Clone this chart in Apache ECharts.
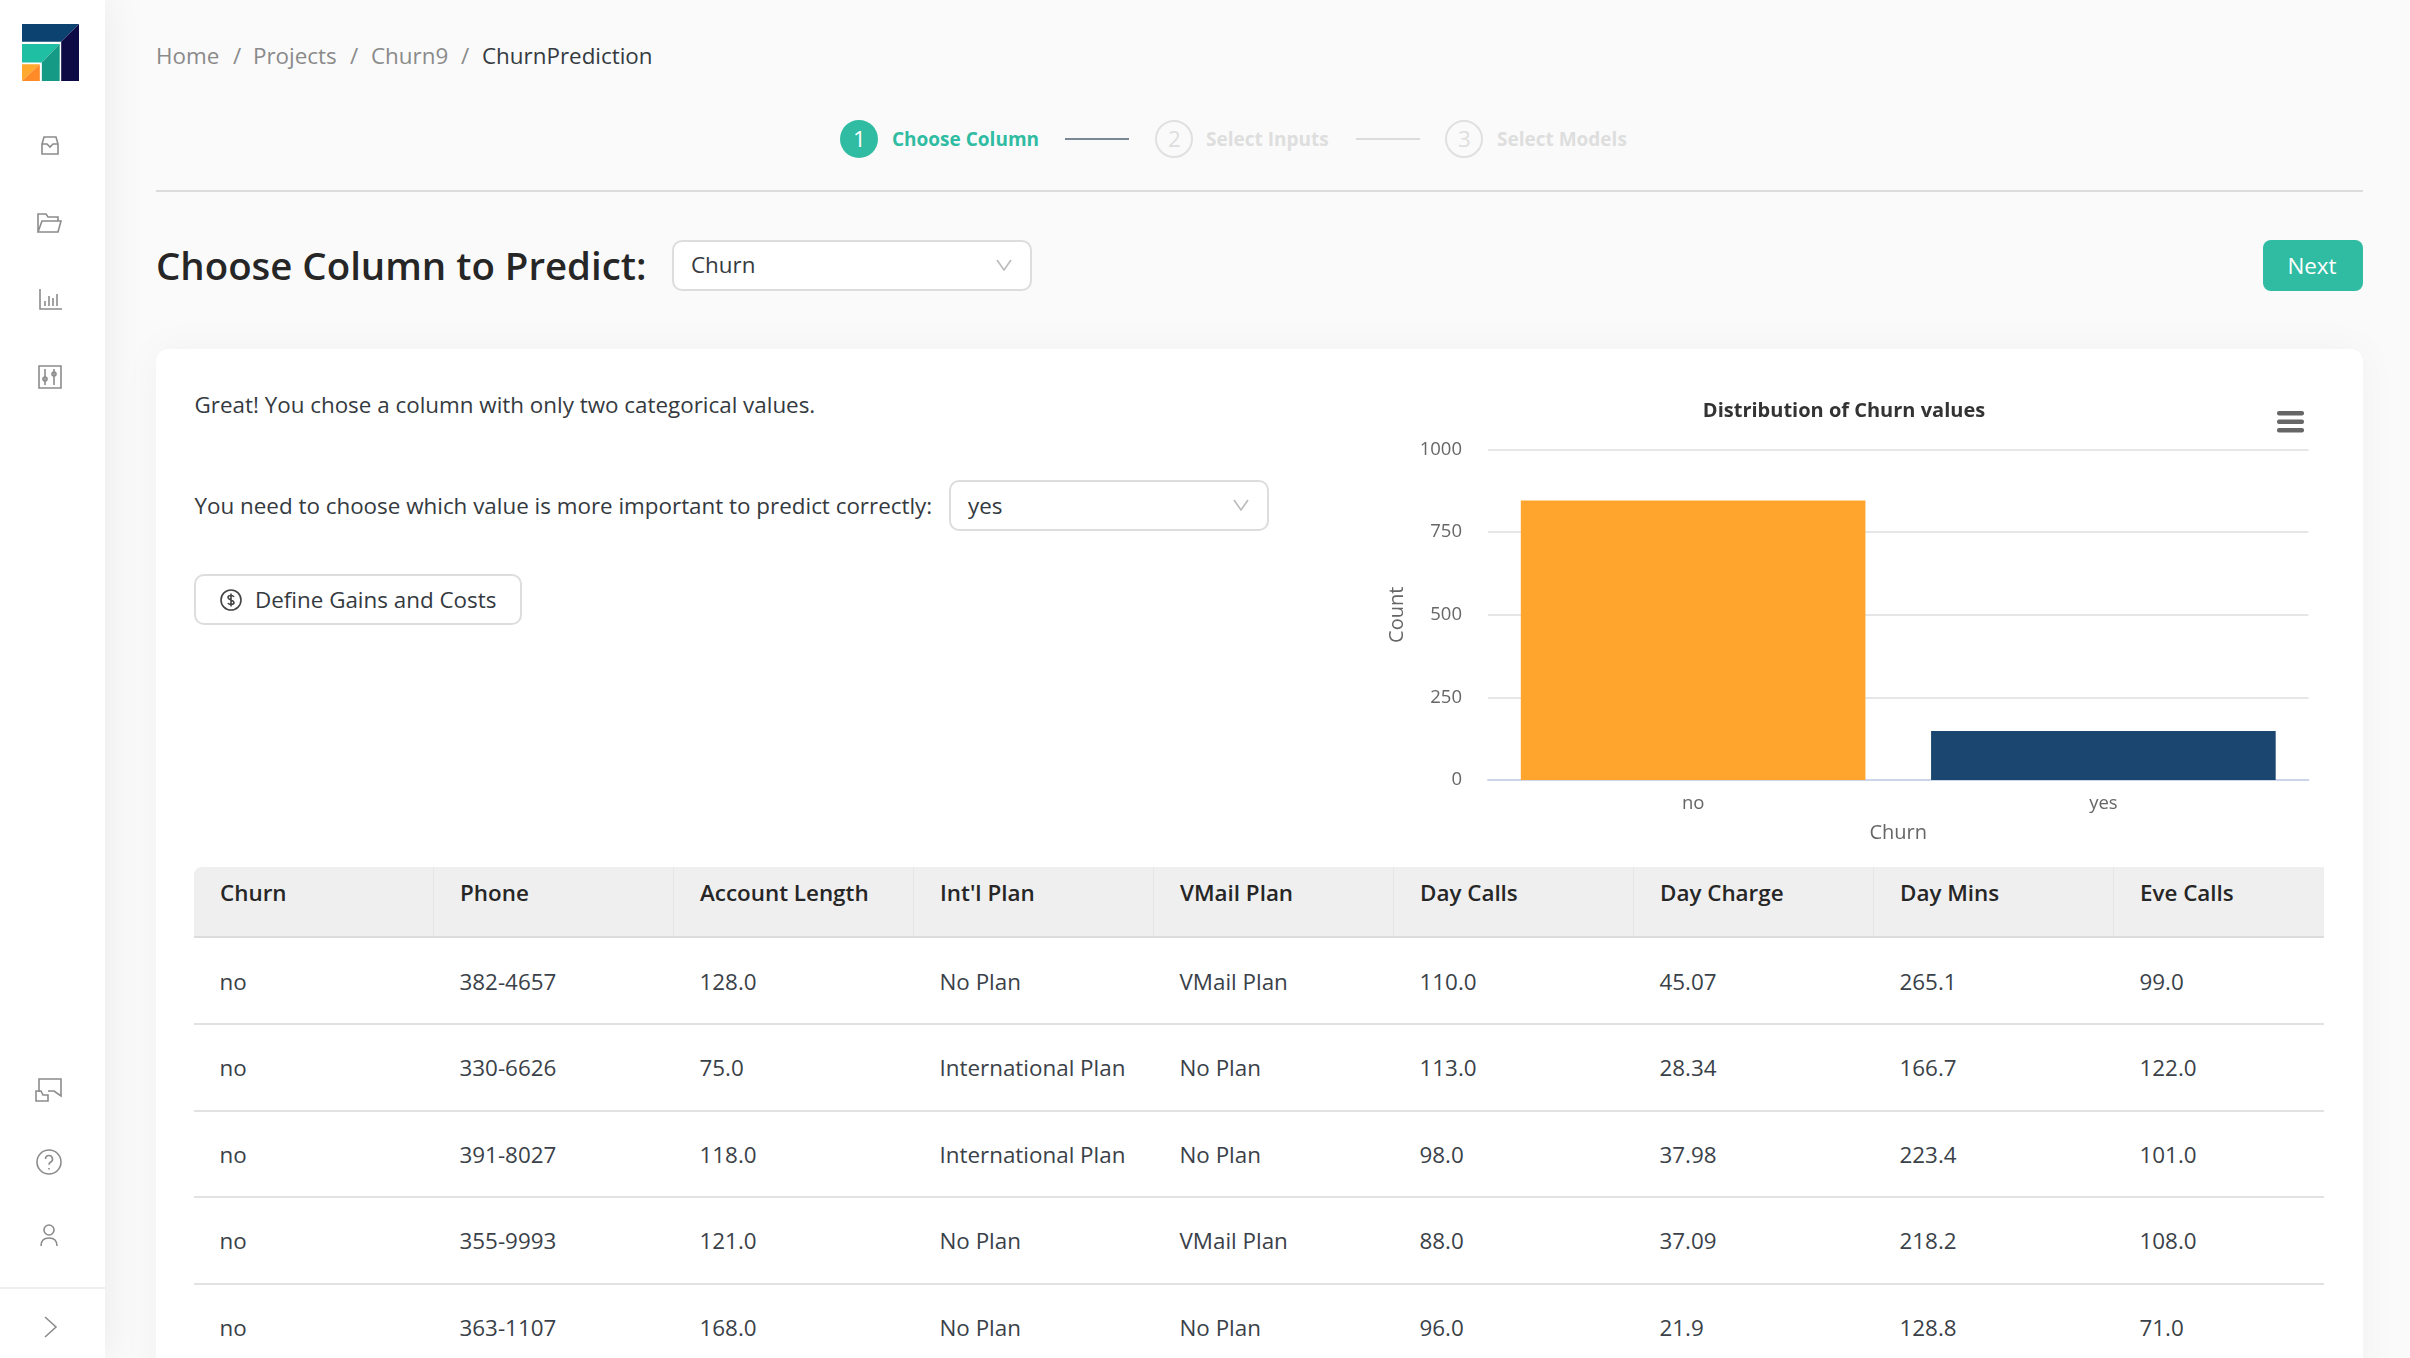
<!DOCTYPE html>
<html><head><meta charset="utf-8">
<script src="https://cdn.jsdelivr.net/npm/echarts@6/dist/echarts.min.js"></script>
<style>
html,body{margin:0;padding:0;width:2410px;height:1358px;overflow:hidden;background:#fafafa;font-family:"Open Sans",sans-serif;color:#343a40}
.a{position:absolute;white-space:nowrap;transform:translateY(-50%);line-height:1}
#side{position:absolute;left:0;top:0;width:105px;height:1358px;background:#fff;box-shadow:0 0 40px rgba(0,0,0,.07)}
#card{position:absolute;left:156px;top:349px;width:2207px;height:1100px;background:#fff;border-radius:12px;box-shadow:0 0 40px rgba(0,0,0,.04)}
.box{position:absolute;background:#fff;border:2px solid #ddd;border-radius:10px;box-sizing:border-box}
.ic{position:absolute;fill:none;stroke:#8c8c8c;stroke-width:1.6}
.hr{position:absolute;background:#dcdcdc;height:2px}
#chart{position:absolute;left:1360px;top:380px;width:1000px;height:480px}
#tbl{position:absolute;left:194px;top:867px;width:2130px;height:491px;overflow:hidden}
.th{position:absolute;top:0;height:70px;width:240px;box-sizing:border-box;background:#efefef;border-right:1px solid #e6e6e6;font-weight:600;font-size:22.4px;color:#262626;line-height:1;padding:15px 0 0 26px}
.td{position:absolute;font-size:22.4px;color:#3a4148;white-space:nowrap;line-height:1;transform:translateY(-50%)}
</style></head><body>
<div id="side">
<svg style="position:absolute;left:22px;top:24px" width="57" height="57" viewBox="43 72 112 170" preserveAspectRatio="none">
<polygon points="43,72 155,72 120,125 43,125" fill="#0b4270"/><polygon points="155,72 155,242 120,242 120,125" fill="#0d0a45"/>
<polygon points="43,132 117,132 82,187 43,187" fill="#1fbfa3"/><polygon points="117,132 117,242 82,242 82,187" fill="#159a85"/>
<polygon points="43,192 78,192 43,242" fill="#ffa92e"/><polygon points="78,192 78,242 43,242" fill="#ff8a28"/></svg>
<svg class="ic" style="left:40px;top:136px" width="20" height="20" viewBox="0 0 20 20"><path d="M4 1h12l2 7v10H2V8zM2 8h5l3 3 3-3h5"/></svg>
<svg class="ic" style="left:37px;top:213px" width="26" height="20" viewBox="0 0 26 20"><path d="M1 19V1h8l2 3h10v4M1 19h20l3-11H5z"/></svg>
<svg class="ic" style="left:39px;top:289px" width="23" height="21" viewBox="0 0 23 21"><path d="M1 0v20h22M6 17v-5M10 17V7M14 17v-8M18 17V5"/></svg>
<svg class="ic" style="left:38px;top:365px" width="24" height="24" viewBox="0 0 24 24"><path d="M1 1h22v22H1zM7 4v16M16 4v16"/><circle cx="7" cy="14" r="2"/><circle cx="16" cy="9" r="2"/></svg>
<svg class="ic" style="left:34px;top:1078px" width="28" height="24" viewBox="0 0 28 24"><path d="M5 14V1h22v17l-7-5h-6M2 23V13h5l2 4h5v6z"/></svg>
<svg class="ic" style="left:36px;top:1149px" width="26" height="26" viewBox="0 0 26 26"><circle cx="13" cy="13" r="12"/><path d="M9.5 10a3.5 3.5 0 1 1 5 3.2c-1 .6-1.5 1.2-1.5 2.5M13 19v1.5"/></svg>
<svg class="ic" style="left:40px;top:1224px" width="18" height="23" viewBox="0 0 18 23"><circle cx="9" cy="6" r="5"/><path d="M1 22c0-5 3-8 8-8s8 3 8 8"/></svg>
<div class="hr" style="left:0;top:1287px;width:105px;background:#efefef"></div>
<svg class="ic" style="left:44px;top:1316px" width="14" height="22" viewBox="0 0 14 22"><path d="M1 1l11 10L1 21"/></svg>
</div>

<div class="a" style="left:156px;top:56px;font-size:22.4px;color:#8a8a8a">Home</div>
<div class="a" style="left:233px;top:56px;font-size:22.4px;color:#8a8a8a">/</div>
<div class="a" style="left:253px;top:56px;font-size:22.4px;color:#8a8a8a">Projects</div>
<div class="a" style="left:350px;top:56px;font-size:22.4px;color:#8a8a8a">/</div>
<div class="a" style="left:371px;top:56px;font-size:22.4px;color:#8a8a8a">Churn9</div>
<div class="a" style="left:461px;top:56px;font-size:22.4px;color:#8a8a8a">/</div>
<div class="a" style="left:482px;top:56px;font-size:22.4px;color:#343a40">ChurnPrediction</div>

<div style="position:absolute;left:840px;top:120px;width:38px;height:38px;border-radius:50%;background:#2fbca2"></div>
<div class="a" style="left:853px;top:139px;font-size:22.4px;color:#fff">1</div>
<div class="a" style="left:892px;top:139px;font-size:19px;font-weight:700;color:#2fbca2">Choose Column</div>
<div class="hr" style="left:1065px;top:138px;width:64px;background:#7a8794"></div>
<div style="position:absolute;left:1155px;top:120px;width:38px;height:38px;border-radius:50%;border:2px solid #e0e0e0;box-sizing:border-box"></div>
<div class="a" style="left:1168px;top:139px;font-size:22.4px;color:#dedede">2</div>
<div class="a" style="left:1206px;top:139px;font-size:19px;font-weight:700;color:#dedede">Select Inputs</div>
<div class="hr" style="left:1356px;top:138px;width:64px;background:#dcdcdc"></div>
<div style="position:absolute;left:1445px;top:120px;width:38px;height:38px;border-radius:50%;border:2px solid #e0e0e0;box-sizing:border-box"></div>
<div class="a" style="left:1458px;top:139px;font-size:22.4px;color:#dedede">3</div>
<div class="a" style="left:1497px;top:139px;font-size:19px;font-weight:700;color:#dedede">Select Models</div>
<div class="hr" style="left:156px;top:190px;width:2207px"></div>

<div class="a" style="left:156px;top:265px;font-size:38.400px;font-weight:600;color:#262626">Choose Column to Predict:</div>
<div class="box" style="left:672px;top:240px;width:360px;height:51px"></div>
<div class="a" style="left:691px;top:264.500px;font-size:22.4px">Churn</div>
<svg class="ic" style="left:996px;top:259px;stroke:#bbb" width="16" height="12" viewBox="0 0 16 12"><path d="M1 1l7 10 7-10"/></svg>
<div style="position:absolute;left:2263px;top:240px;width:100px;height:51px;border-radius:8px;background:#2fbca2"></div>
<div class="a" style="left:2312px;top:265.500px;font-size:22.4px;color:#fff;transform:translate(-50%,-50%)">Next</div>

<div id="card"></div>
<div class="a" style="left:194.500px;top:405px;font-size:22.4px">Great! You chose a column with only two categorical values.</div>
<div class="a" style="left:194.500px;top:506px;font-size:22.4px">You need to choose which value is more important to predict correctly:</div>
<div class="box" style="left:949px;top:480px;width:320px;height:51px"></div>
<div class="a" style="left:968px;top:506px;font-size:22.4px">yes</div>
<svg class="ic" style="left:1233px;top:499px;stroke:#bbb" width="16" height="12" viewBox="0 0 16 12"><path d="M1 1l7 10 7-10"/></svg>
<div class="box" style="left:194px;top:574px;width:328px;height:51px"></div>
<svg class="ic" style="left:220px;top:589px;stroke:#444" width="22" height="22" viewBox="0 0 22 22"><circle cx="11" cy="11" r="10"/><path d="M14 8c-1-2-6-2-6 .5S14 11 14 13.500 9 16 8 14M11 4.500v13"/></svg>
<div class="a" style="left:255px;top:600px;font-size:22.4px">Define Gains and Costs</div>

<div id="chart"></div>
<div id="tbl"></div>

<script>
const chartTitle = 'Distribution of Churn values';
const categories = ['no', 'yes'];
const counts = [846, 148];
const barColors = ['#ffa52e', '#1a4670'];
const yTicks = [0, 250, 500, 750, 1000];

const columns = ['Churn', 'Phone', 'Account Length', "Int'l Plan", 'VMail Plan', 'Day Calls', 'Day Charge', 'Day Mins', 'Eve Calls'];
const churnCol = ['no', 'no', 'no', 'no', 'no'];
const phoneCol = ['382-4657', '330-6626', '391-8027', '355-9993', '363-1107'];
const lengthCol = ['128.0', '75.0', '118.0', '121.0', '168.0'];
const intlCol = ['No Plan', 'International Plan', 'International Plan', 'No Plan', 'No Plan'];
const vmailCol = ['VMail Plan', 'No Plan', 'No Plan', 'VMail Plan', 'No Plan'];
const dayCallsCol = ['110.0', '113.0', '98.0', '88.0', '96.0'];
const dayChargeCol = ['45.07', '28.34', '37.98', '37.09', '21.9'];
const dayMinsCol = ['265.1', '166.7', '223.4', '218.2', '128.8'];
const eveCallsCol = ['99.0', '122.0', '101.0', '108.0', '71.0'];
const tableCols = [churnCol, phoneCol, lengthCol, intlCol, vmailCol, dayCallsCol, dayChargeCol, dayMinsCol, eveCallsCol];

// table
const tbl = document.getElementById('tbl');
let html = '';
columns.forEach((c, i) => {
  html += `<div class="th" style="left:${i * 240}px${i === 0 ? ';border-top-left-radius:8px' : ''}">${c}</div>`;
});
html += '<div style="position:absolute;left:0;top:69px;width:2130px;height:2px;background:#dcdcdc"></div>';
churnCol.forEach((_, r) => {
  tableCols.forEach((col, i) => {
    html += `<div class="td" style="left:${i * 240 + 25.5}px;top:${115 + r * 86.4}px">${col[r]}</div>`;
  });
  if (r < 4) html += `<div style="position:absolute;left:0;top:${156 + r * 86.5}px;width:2130px;height:2px;background:#e2e2e2"></div>`;
});
tbl.innerHTML = html;

// chart
const chart = echarts.init(document.getElementById('chart'), null, { renderer: 'canvas' });
chart.setOption({
  animation: false,
  textStyle: { fontFamily: '"Open Sans", sans-serif' },
  title: {
    text: chartTitle, left: 479, top: 16.5, textAlign: 'center',
    textStyle: { fontSize: 20, fontWeight: 'bold', color: '#333', fontFamily: '"Open Sans", sans-serif' }
  },
  grid: { left: 128, top: 69.5, width: 820.5, height: 330.5 },
  xAxis: {
    type: 'category', data: categories, name: 'Churn', nameLocation: 'middle', nameGap: 43.5,
    nameTextStyle: { fontSize: 20, color: '#666' },
    axisLine: { lineStyle: { color: '#ccd6eb', width: 2 } },
    axisTick: { show: false },
    axisLabel: { fontSize: 18.500, color: '#666', margin: 14.5 }
  },
  yAxis: {
    type: 'value', min: 0, max: 1000, interval: 250, name: 'Count', nameLocation: 'middle', nameGap: 81,
    nameTextStyle: { fontSize: 20, color: '#666' },
    axisLine: { show: false }, axisTick: { show: false },
    axisLabel: { fontSize: 18.500, color: '#666', margin: 26, formatter: v => yTicks.includes(v) ? String(v) : '' },
    splitLine: { lineStyle: { color: '#e6e6e6', width: 2 } }
  },
  series: [{
    type: 'bar', barWidth: '84%',
    data: counts.map((v, i) => ({ value: v, itemStyle: { color: barColors[i] } }))
  }],
  graphic: [0, 8.5, 17].map(dy => ({
    type: 'rect', left: 917, top: 31 + dy,
    shape: { width: 27, height: 4.5, r: 2 }, style: { fill: '#666' }
  }))
});
</script>
</body></html>
